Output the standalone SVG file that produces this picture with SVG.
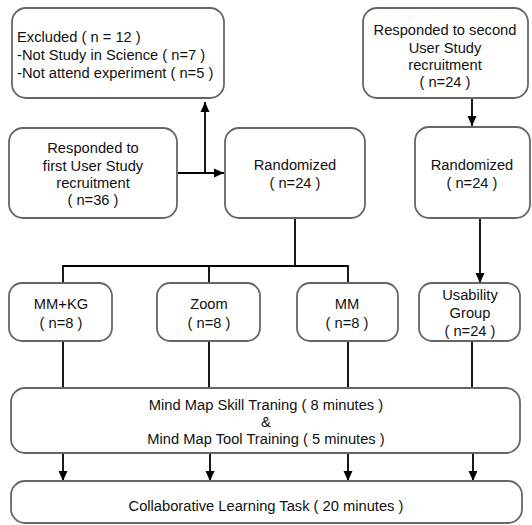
<svg xmlns="http://www.w3.org/2000/svg" width="532" height="525" viewBox="0 0 532 525">
<style>
.box{fill:#fff;stroke:#666;stroke-width:1.8}
text{font-family:"Liberation Sans",Arial,sans-serif;font-size:14.7px;fill:#111;text-anchor:middle}
.c{fill:none;stroke:#000;stroke-width:1.8}
</style>
<defs>
<marker id="a" viewBox="0 0 10 10" refX="10" refY="5" markerWidth="10" markerHeight="10" markerUnits="userSpaceOnUse" orient="auto"><path d="M0,0.5L10,5L0,9.5z" fill="#000"/></marker>
</defs>
<g id="connectors">
<path class="c" d="M177,173H224" marker-end="url(#a)"/>
<path class="c" d="M205,173V102" marker-end="url(#a)"/>
<path class="c" d="M472,98V126" marker-end="url(#a)"/>
<path class="c" d="M480,218V283" marker-end="url(#a)"/>
<path class="c" d="M295,218V266M63,283V266H348V283M209,266V283"/>
<path class="c" d="M63,341V388M209,341V388M348,341V388M472,341V388"/>
<path class="c" d="M63,453V481" marker-end="url(#a)"/>
<path class="c" d="M210,453V481" marker-end="url(#a)"/>
<path class="c" d="M348,453V481" marker-end="url(#a)"/>
<path class="c" d="M473,453V481" marker-end="url(#a)"/>
</g>
<g id="excluded">
<rect class="box" x="12" y="8" width="212" height="90" rx="14"/>
<text x="17" y="42" style="text-anchor:start">Excluded ( n = 12 )</text>
<text x="17" y="60" style="text-anchor:start">-Not Study in Science ( n=7 )</text>
<text x="17" y="78" style="text-anchor:start">-Not attend experiment ( n=5 )</text>
</g>
<g id="second">
<rect class="box" x="363" y="8" width="165" height="90" rx="14"/>
<text x="445" y="35">Responded to second</text>
<text x="445" y="53">User Study</text>
<text x="445" y="70">recruitment</text>
<text x="445" y="87">( n=24 )</text>
</g>
<g id="first">
<rect class="box" x="9" y="128" width="168" height="90" rx="14"/>
<text x="93" y="153">Responded to</text>
<text x="93" y="171">first User Study</text>
<text x="93" y="188">recruitment</text>
<text x="93" y="205">( n=36 )</text>
</g>
<g id="rand1">
<rect class="box" x="225" y="128" width="140" height="90" rx="14"/>
<text x="295" y="170">Randomized</text>
<text x="295" y="188">( n=24 )</text>
</g>
<g id="rand2">
<rect class="box" x="415" y="127" width="115" height="91" rx="14"/>
<text x="472" y="170">Randomized</text>
<text x="472" y="188">( n=24 )</text>
</g>
<g id="mmkg">
<rect class="box" x="9" y="283" width="103" height="58" rx="13"/>
<text x="61" y="309">MM+KG</text>
<text x="61" y="328">( n=8 )</text>
</g>
<g id="zoom">
<rect class="box" x="157" y="283" width="103" height="58" rx="13"/>
<text x="209" y="309">Zoom</text>
<text x="209" y="328">( n=8 )</text>
</g>
<g id="mm">
<rect class="box" x="297" y="283" width="101" height="58" rx="13"/>
<text x="347" y="309">MM</text>
<text x="347" y="328">( n=8 )</text>
</g>
<g id="usability">
<rect class="box" x="419" y="283" width="101" height="58" rx="13"/>
<text x="470" y="300">Usability</text>
<text x="470" y="318">Group</text>
<text x="470" y="336">( n=24 )</text>
</g>
<g id="training">
<rect class="box" x="11" y="388" width="509" height="65" rx="14"/>
<text x="266" y="410">Mind Map Skill Traning ( 8 minutes  )</text>
<text x="266" y="427">&amp;</text>
<text x="266" y="444">Mind Map Tool Training ( 5 minutes )</text>
</g>
<g id="task">
<rect class="box" x="11" y="481" width="511" height="42" rx="14"/>
<text x="266" y="511">Collaborative Learning Task ( 20 minutes )</text>
</g>
</svg>
